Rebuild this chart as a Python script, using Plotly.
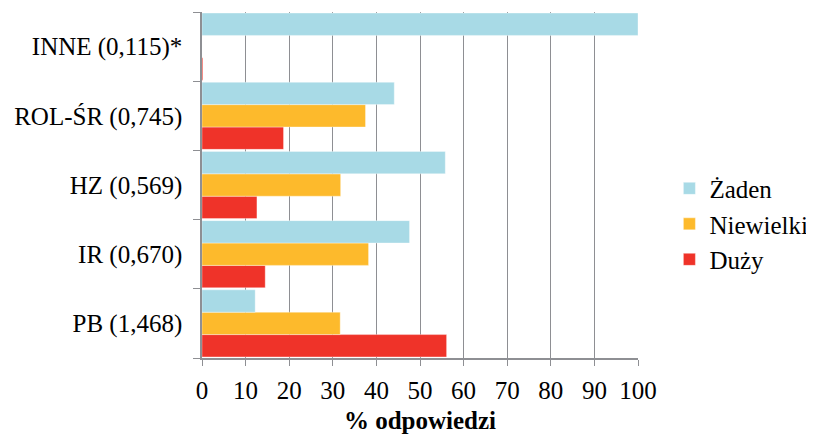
import plotly.graph_objects as go

categories = ["PB (1,468)", "IR (0,670)", "HZ (0,569)", "ROL-ŚR (0,745)", "INNE (0,115)*"]
zaden = [12.2, 47.6, 55.8, 44.1, 100.0]
niewielki = [31.7, 38.2, 31.8, 37.5, 0.0]
duzy = [56.1, 14.5, 12.6, 18.7, 0.2]
x_ticks = [0, 10, 20, 30, 40, 50, 60, 70, 80, 90, 100]

series = [
    ("Duży", duzy, "#EF3329"),
    ("Niewielki", niewielki, "#FDBA2C"),
    ("Żaden", zaden, "#A8DAE6"),
]

fig = go.Figure()
for name, vals, col in series:
    fig.add_trace(go.Bar(
        y=categories, x=vals, name=name, orientation="h",
        marker=dict(color=col, line=dict(color="rgba(255,255,255,0.45)", width=0.8)),
    ))

font_family = "'Liberation Serif', 'Times New Roman', 'DejaVu Serif', serif"
grid_col = "#8E8F93"
fs = 25

# page has an 8px body margin, so the figure is 8px smaller and margins shifted
fig.update_layout(
    width=806, height=427,
    margin=dict(l=194, r=176, t=4, b=77, autoexpand=False),
    paper_bgcolor="white", plot_bgcolor="white",
    barmode="group", bargap=0.03, bargroupgap=0,
    font=dict(family=font_family, size=fs, color="black"),
    legend=dict(
        x=1.072, xanchor="left", y=0.387, yanchor="middle",
        traceorder="reversed", font=dict(size=fs, family=font_family),
        itemwidth=30, bgcolor="rgba(0,0,0,0)",
    ),
    xaxis=dict(
        range=[0, 100], tickvals=x_ticks, ticktext=[str(v) for v in x_ticks],
        showgrid=True, gridcolor=grid_col, gridwidth=1.3,
        showline=True, linecolor=grid_col, linewidth=1.5,
        ticks="outside", ticklen=6, tickcolor=grid_col, tickwidth=1.3,
        zeroline=False, automargin=False,
        title=dict(text="<b>% odpowiedzi</b>", font=dict(size=fs, family=font_family), standoff=9),
        tickfont=dict(size=fs, family=font_family),
        ticklabelstandoff=3,
    ),
    yaxis=dict(
        categoryorder="array", categoryarray=categories,
        showline=True, linecolor=grid_col, linewidth=1.5,
        ticks="outside", ticklen=7, tickcolor=grid_col, tickwidth=1.3,
        tickson="boundaries", showgrid=False, automargin=False,
        tickfont=dict(size=fs, family=font_family),
        ticklabelstandoff=13,
    ),
)

fig.write_html("out.html")
